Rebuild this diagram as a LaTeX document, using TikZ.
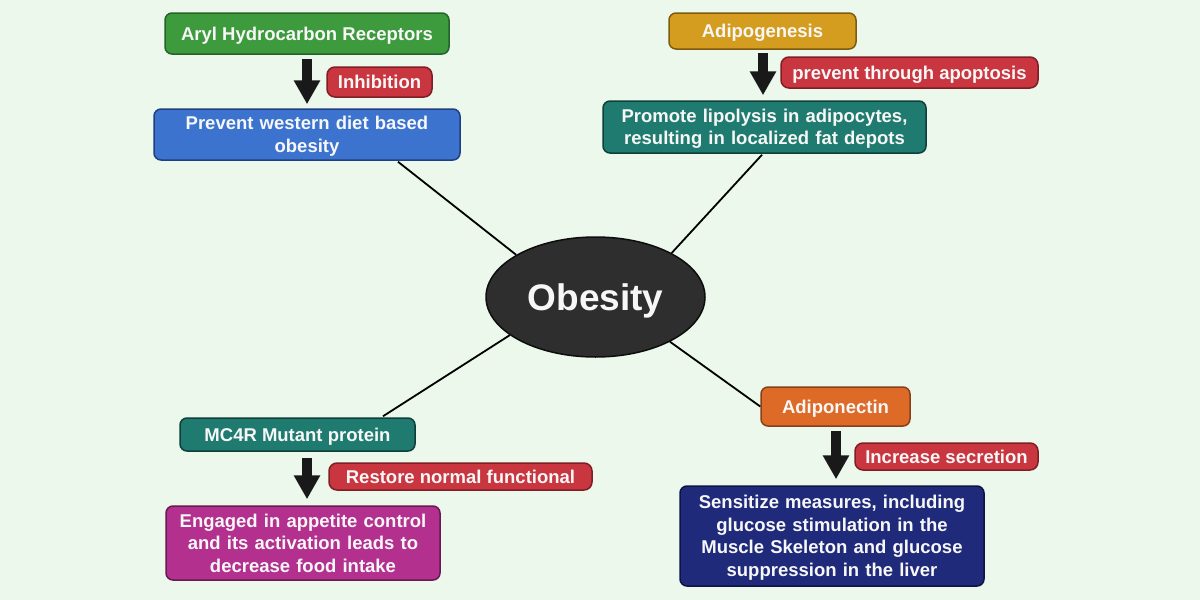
\documentclass[tikz,border=0pt]{standalone}
\usepackage{fontspec}
\setmainfont{Liberation Sans}
\usetikzlibrary{shapes.geometric,arrows.meta,calc}
\definecolor{bgc}{HTML}{EBF8EB}
\definecolor{gfill}{HTML}{3D9B3D}\definecolor{gdraw}{HTML}{24632A}
\definecolor{rfill}{HTML}{C9363F}\definecolor{rdraw}{HTML}{7E1E25}
\definecolor{bfill}{HTML}{3B73CF}\definecolor{bdraw}{HTML}{213F80}
\definecolor{yfill}{HTML}{D49D1F}\definecolor{ydraw}{HTML}{7E5A10}
\definecolor{tfill}{HTML}{1F7B6F}\definecolor{tdraw}{HTML}{0F3F38}
\definecolor{mfill}{HTML}{B3308F}\definecolor{mdraw}{HTML}{661A52}
\definecolor{ofill}{HTML}{DE6A28}\definecolor{odraw}{HTML}{86401A}
\definecolor{nfill}{HTML}{1F2A7A}\definecolor{ndraw}{HTML}{0E1445}
\definecolor{ofont}{HTML}{F7F7F7}
\begin{document}
\begin{tikzpicture}[x=1pt,y=-1pt,
  box/.style={draw, rounded corners=7pt, line width=1.5pt, inner sep=0pt,
    text=ofont, font=\fontsize{18.5}{22.5}\selectfont\bfseries, align=center,
    text height=13pt, text depth=0pt},
  two/.style={text depth=22.5pt},
  three/.style={text depth=45pt},
  four/.style={text depth=67.5pt},
  lbl/.style={box, rounded corners=8pt},
  bigarrow/.style={draw=black!90, line width=10pt, -{Triangle[length=24pt,width=25pt]}},
  link/.style={draw=black, line width=1.8pt}]
\fill[bgc] (0,0) rectangle (1200,600);
\useasboundingbox (0,0) rectangle (1200,600);

% central node
\node[ellipse, draw=black!95, fill=black!82, line width=1.5pt, minimum width=219pt, minimum height=120pt,
  inner sep=0pt, text height=26pt, text depth=0pt,
  text=ofont, font=\fontsize{37}{40}\selectfont\bfseries] (ob) at (595.5,297) {Obesity};

% top left
\node[box, fill=gfill, draw=gdraw, minimum width=284pt, minimum height=41pt] (aryl) at (307,33.5) {Aryl Hydrocarbon Receptors};
\node[lbl, fill=rfill, draw=rdraw, minimum width=105pt, minimum height=30pt] (inh) at (379.5,82) {Inhibition};
\node[box, two, fill=bfill, draw=bdraw, minimum width=306pt, minimum height=51pt, text width=296pt] (prev) at (307,134.5) {Prevent western diet based\\obesity};

% top right
\node[box, fill=yfill, draw=ydraw, minimum width=187pt, minimum height=36pt] (adipo) at (762.5,31) {Adipogenesis};
\node[lbl, fill=rfill, draw=rdraw, minimum width=257pt, minimum height=31pt] (apop) at (909.5,72.5) {prevent through apoptosis};
\node[box, two, fill=tfill, draw=tdraw, minimum width=323pt, minimum height=52pt, text width=313pt] (prom) at (764.5,127) {Promote lipolysis in adipocytes,\\resulting in localized fat depots};

% bottom left
\node[box, fill=tfill, draw=tdraw, minimum width=235pt, minimum height=33pt] (mc) at (297.5,434.5) {MC4R Mutant protein};
\node[lbl, fill=rfill, draw=rdraw, minimum width=263pt, minimum height=27pt] (rest) at (460.5,476.5) {Restore normal functional};
\node[box, three, fill=mfill, draw=mdraw, minimum width=274pt, minimum height=74pt, text width=264pt] (eng) at (303,543) {Engaged in appetite control\\and its activation leads to\\decrease food intake};

% bottom right
\node[box, fill=ofill, draw=odraw, minimum width=149pt, minimum height=39pt] (adn) at (835.5,406.5) {Adiponectin};
\node[lbl, fill=rfill, draw=rdraw, minimum width=183pt, minimum height=27pt] (inc) at (946.5,456.5) {Increase secretion};
\node[box, four, fill=nfill, draw=ndraw, minimum width=304pt, minimum height=100pt, text width=294pt] (sens) at (832,536) {Sensitize measures, including\\glucose stimulation in the\\Muscle Skeleton and glucose\\suppression in the liver};

% block arrows
\draw[bigarrow] ($(aryl.south)+(0,4)$) -- ($(prev.north)+(0,-4)$);
\draw[bigarrow] ($(adipo.south)+(0.5,3)$) -- ($(prom.north)+(-1.5,-5)$);
\draw[bigarrow] ($(mc.south)+(9.5,6)$) -- ($(eng.north)+(4,-6)$);
\draw[bigarrow] ($(adn.south)+(0.5,4)$) -- ($(sens.north)+(4,-6)$);

% links to the centre
\draw[link] ($(prev.south)+(91,1)$) -- (ob.152);
\draw[link] ($(prom.south)+(-2.5,1)$) -- (ob.30);
\draw[link] ($(mc.north)+(85.5,-1)$) -- (ob.204);
\draw[link] (adn.west) -- (ob.329);
\end{tikzpicture}
\end{document}
